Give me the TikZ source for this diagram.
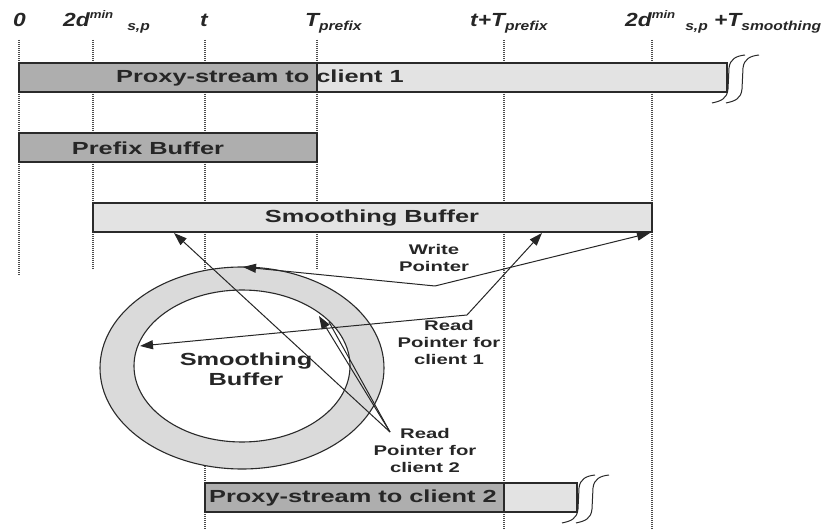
\documentclass[tikz,border=0pt]{standalone}
\usepackage{fontspec}
\setmainfont{Liberation Sans}
\newfontfamily\bodyf[FakeStretch=1.45]{Liberation Sans}
\newfontfamily\topf[FakeStretch=1.2]{Liberation Sans}
\usetikzlibrary{arrows.meta}
\definecolor{darkbar}{HTML}{AEAEAE}
\definecolor{lightbar}{HTML}{E3E3E3}
\definecolor{ringc}{HTML}{DADADA}
\definecolor{edge}{HTML}{2A2A2A}
\begin{document}
\begin{tikzpicture}[x=1pt,y=-1pt,
  guide/.style={line width=1.3pt, dash pattern=on 1pt off 1pt, color=black!70},
  barbox/.style={draw=edge, line width=1.2pt},
  bartext/.style={font=\bodyf\bfseries\fontsize{17.5}{20}\selectfont, text=black!85, inner sep=0pt},
  ptrtext/.style={font=\bodyf\bfseries\fontsize{14}{17}\selectfont, align=center, inner sep=0pt, text=black!85},
  toplabel/.style={font=\topf\bfseries\itshape\fontsize{19}{20}\selectfont, anchor=base west, inner sep=0pt, text=black!85},
  ptr/.style={line width=1pt, draw=black!85, -{Triangle[length=13pt,width=9pt]}},
  brk/.pic={
    \draw[line width=1pt, edge] (-15,40) .. controls (-6,38) and (0,36) .. (1,26) -- (2,5) .. controls (3,-4) and (9,-7) .. (18,-8);
    \draw[line width=1pt, edge] (-1,40) .. controls (8,38) and (14,36) .. (15,26) -- (16,5) .. controls (17,-4) and (23,-7) .. (32,-8);
  }
]
\useasboundingbox (0,0) rectangle (831,529);

% top labels
\node[toplabel] (l0) at (13,27) {0};
\node[toplabel] (l2d) at (63,27) {2d\raisebox{8pt}{\fontsize{11}{11}\selectfont min}\hspace{14pt}\raisebox{-4pt}{\fontsize{13}{13}\selectfont s,p}};
\node[toplabel] (lt) at (200,27) {t};
\node[toplabel] (lTp) at (305,27) {T\raisebox{-4pt}{\fontsize{13}{13}\selectfont prefix}};
\node[toplabel] (ltTp) at (470,27) {t+T\raisebox{-4pt}{\fontsize{13}{13}\selectfont prefix}};
\node[toplabel] (lend) at (625,27) {2d\raisebox{8pt}{\fontsize{11}{11}\selectfont min}\hspace{10pt}\raisebox{-4pt}{\fontsize{13}{13}\selectfont s,p} +T\raisebox{-4pt}{\fontsize{13}{13}\selectfont smoothing}};

% guide lines
\foreach \x/\y in {19/275, 93/270, 317/270} \draw[guide] (\x,40) -- (\x,\y);
\foreach \x in {205,504,652} \draw[guide] (\x,40) -- (\x,529);

% proxy-stream to client 1
\fill[lightbar] (19,63) rectangle (727,92);
\fill[darkbar] (19,63) rectangle (317,92);
\draw[barbox] (19,63) rectangle (727,92);
\draw[barbox] (317,63) -- (317,92);
\pic at (727,63) {brk};

% prefix buffer
\fill[darkbar] (19,133) rectangle (317,162);
\draw[barbox] (19,133) rectangle (317,162);

% smoothing buffer bar
\fill[lightbar] (93,203) rectangle (652,232);
\draw[barbox] (93,203) rectangle (652,232);

% proxy-stream to client 2
\fill[lightbar] (205,483) rectangle (577,512);
\fill[darkbar] (205,483) rectangle (504,512);
\draw[barbox] (205,483) rectangle (577,512);
\draw[barbox] (504,483) -- (504,512);
\pic at (577,483) {brk};

% ring
\fill[ringc] (242,368) ellipse [x radius=142pt, y radius=101pt];
\draw[edge, line width=1.1pt] (242,368) ellipse [x radius=142pt, y radius=101pt];
\fill[white] (242,366) ellipse [x radius=108pt, y radius=76pt];
\draw[edge, line width=1.1pt] (242,366) ellipse [x radius=108pt, y radius=76pt];

% texts
\node[bartext] (c1) at (260,77.5) {Proxy-stream to client 1};
\node[bartext] (pb) at (148,148) {Prefix Buffer};
\node[bartext] (sb) at (372,218) {Smoothing Buffer};
\node[bartext] (c2) at (353,497.5) {Proxy-stream to client 2};
\node[bartext, anchor=base] (rb1) at (246,366) {Smoothing};
\node[bartext, anchor=base] (rb2) at (246,386) {Buffer};

\node[ptrtext] (wl) at (434,258) {Write\\Pointer};
\node[ptrtext] (r1l) at (449,342) {Read\\Pointer for\\client 1};
\node[ptrtext] (r2l) at (425,450) {Read\\Pointer for\\client 2};

% pointers
\coordinate (wv) at (435,286);
\coordinate (wa) at (650,233);
\coordinate (wb) at (243,267);
\draw[ptr] (wv) -- (wa);
\draw[ptr] (wv) -- (wb);

\coordinate (r1v) at (467,315);
\coordinate (r1a) at (542,233);
\coordinate (r1b) at (140,346);
\draw[ptr] (r1v) -- (r1a);
\draw[ptr] (r1v) -- (r1b);

\coordinate (r2v) at (390,432);
\coordinate (r2a) at (174,233);
\coordinate (r2b) at (319,316);
\coordinate (r2c) at (329,322);
\draw[ptr] (r2v) -- (r2a);
\draw[ptr] (r2v) -- (r2b);
\draw[line width=1pt, draw=black!85] (r2v) -- (r2c);
\end{tikzpicture}
\end{document}
